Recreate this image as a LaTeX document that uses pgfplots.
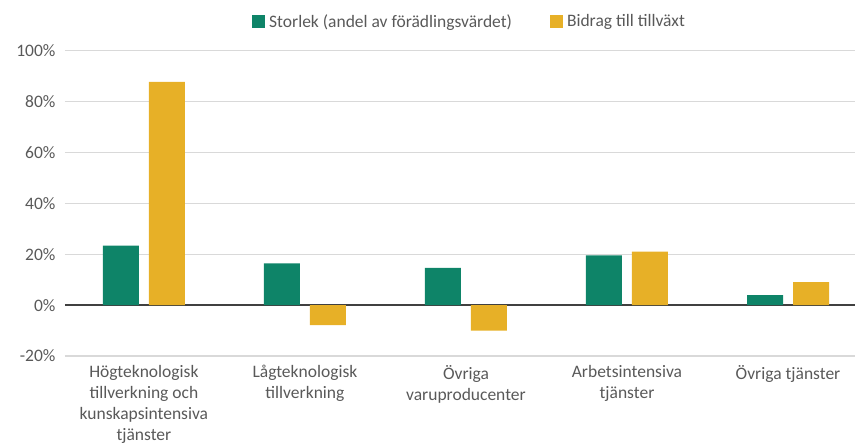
\documentclass[border=0pt]{standalone}
\usepackage{pgfplots}
\pgfplotsset{compat=1.18}
\usepackage{fontspec}
\setmainfont{Carlito}
\definecolor{bargreen}{HTML}{0E8468}
\definecolor{baryellow}{HTML}{E7B027}
\definecolor{txtgray}{HTML}{595959}
\definecolor{gridgray}{HTML}{D9D9D9}
\begin{document}
\begin{tikzpicture}
\begin{axis}[
    scale only axis,
    width=790pt, height=305.3pt,
    ybar=10pt,
    bar width=36pt,
    xmin=-0.49, xmax=4.416,
    ymin=-20, ymax=100,
    ytick={-20,0,20,40,60,80,100},
    yticklabel={\pgfmathprintnumber{\tick}\%},
    /pgf/number format/assume math mode=true,
    xtick={0,1,2,3,4},
    xticklabels={{Högteknologisk\\tillverkning och\\kunskapsintensiva\\tjänster},
                 {Lågteknologisk\\tillverkning},
                 {Övriga\\varuproducenter},
                 {Arbetsintensiva\\tjänster},
                 {Övriga tjänster}},
    xticklabel style={align=center, font=\fontsize{17.5}{21}\selectfont, text=txtgray, anchor=north, yshift=-6pt},
    yticklabel style={font=\fontsize{17.5}{21}\selectfont, text=txtgray, xshift=-6pt},
    major tick length=0pt,
    axis line style={draw=none},
    ymajorgrids,
    grid style={gridgray, line width=1.2pt},
    extra y ticks={0},
    extra y tick labels={},
    extra y tick style={grid style={black!75, line width=1.5pt}},
    legend columns=2,
    legend style={draw=none, fill=none, inner sep=0pt, at={(0.2367,1.0957)}, anchor=west,
        font=\fontsize{17.5}{21}\selectfont, text=txtgray,
        /tikz/every odd column/.append style={column sep=2pt},
        /tikz/every even column/.append style={column sep=36pt}},
    legend image code/.code={\fill[#1] (0pt,-6.5pt) rectangle (13pt,6.5pt);},
]
\addplot[fill=bargreen, draw=none] coordinates {(0,23.4) (1,16.4) (2,14.6) (3,19.6) (4,3.9)};
\addplot[fill=baryellow, draw=none] coordinates {(0,87.7) (1,-7.9) (2,-10.0) (3,21.0) (4,9.0)};
\legend{Storlek (andel av förädlingsvärdet), Bidrag till tillväxt}
\end{axis}
\path[use as bounding box] (-65pt,-91pt) rectangle (794pt,356pt);
\end{tikzpicture}
\end{document}
